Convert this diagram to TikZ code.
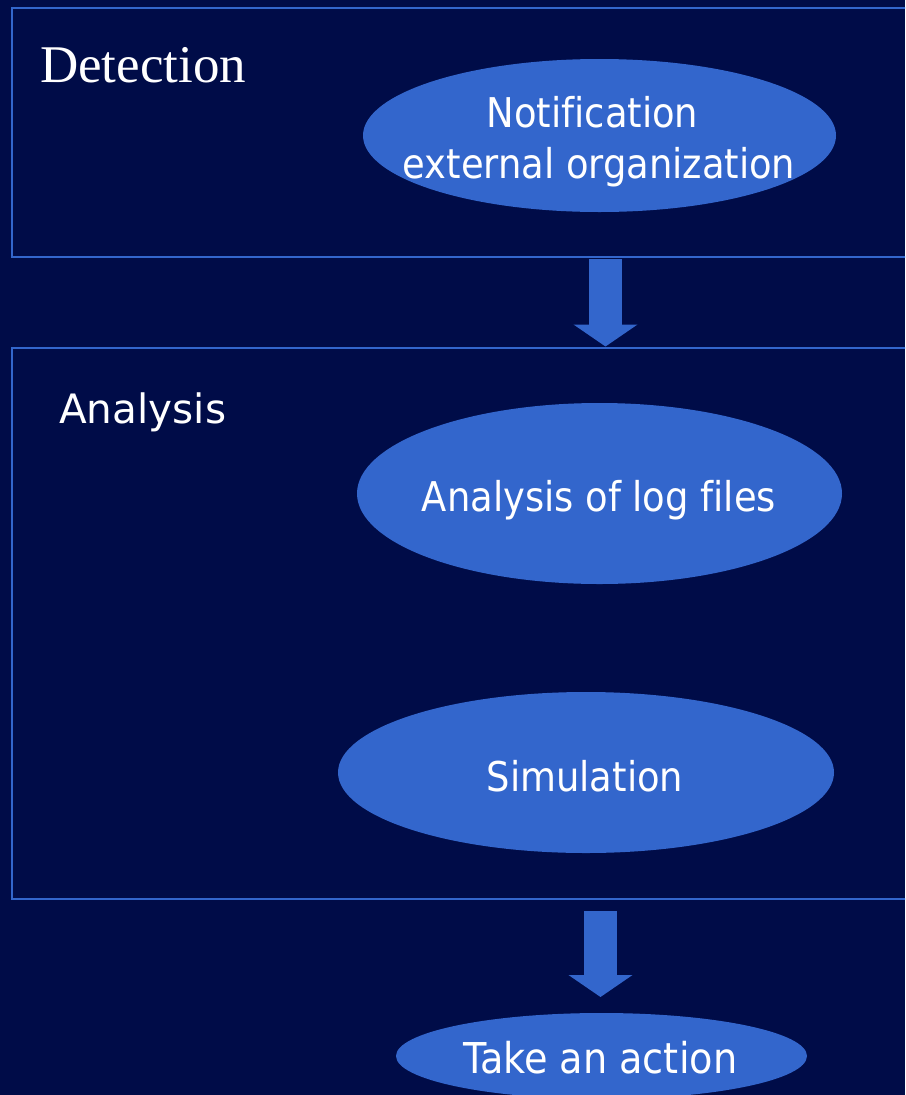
\documentclass[tikz,border=0pt]{standalone}
\usepackage{fontspec}
\setmainfont{Liberation Serif}
\newfontfamily\tahfont[Ligatures=NoCommon]{DejaVu Sans Condensed}
\newfontfamily\verfont{DejaVu Sans}
\usetikzlibrary{shapes.geometric,arrows.meta}
\definecolor{bgnavy}{RGB}{0,12,72}
\definecolor{fillblue}{RGB}{51,102,204}
\definecolor{lineblue}{RGB}{51,102,204}
\tikzset{
  stage/.style={draw=lineblue, line width=2pt},
  blob/.style={ellipse, fill=fillblue, draw=none, inner sep=0pt},
  sanstxt/.style={text=white, font=\tahfont\fontsize{41}{49}\selectfont, inner sep=0pt, anchor=base},
  sertxt/.style={text=white, font=\fontsize{53}{61}\selectfont, inner sep=0pt, anchor=base west},
  blockarrow/.style={draw=fillblue, line width=33pt, -{Triangle[width=63pt,length=22pt]}},
}
\begin{document}
\begin{tikzpicture}[x=1pt,y=-1pt]
\useasboundingbox (0,0) rectangle (905,1095);
\fill[bgnavy] (0,0) rectangle (905,1095);
\clip (0,0) rectangle (905,1095);
% stage boxes
\node[stage, inner sep=0pt, minimum width=900pt, minimum height=249pt, anchor=north west] (detbox) at (11,7) {};
\node[stage, inner sep=0pt, minimum width=900pt, minimum height=551pt, anchor=north west] (anabox) at (11,347) {};
\node[sertxt] (dettitle) at (40,82) {Detection};
\node[sanstxt, font=\verfont\fontsize{40.5}{48}\selectfont, anchor=base west] (anatitle) at (59,423) {Analysis};
% ellipses
\node[blob, minimum width=473pt, minimum height=153pt] (notif) at (599.5,135.5) {};
\node[sanstxt] (notifa) at (592.5,127) {Notification};
\node[sanstxt] (notifb) at (599,178) {external organization};
\node[blob, minimum width=485pt, minimum height=181pt] (logs) at (599.5,493.5) {};
\node[sanstxt] (logst) at (599,511) {Analysis of log files};
\node[blob, minimum width=496pt, minimum height=161pt] (sim) at (586,772.5) {};
\node[sanstxt] (simt) at (585,791) {Simulation};
\node[blob, minimum width=411pt, minimum height=86pt] (act) at (601.5,1056) {};
\node[sanstxt, font=\tahfont\fontsize{42.5}{50}\selectfont] (actt) at (600.5,1073) {Take an action};
% arrows between the stages
\coordinate (a1s) at (605.5,259);
\coordinate (a1e) at (605.5,346.5);
\draw[blockarrow] (a1s) -- (a1e);
\coordinate (a2s) at (600.5,911);
\coordinate (a2e) at (600.5,997);
\draw[blockarrow] (a2s) -- (a2e);
\end{tikzpicture}
\end{document}
